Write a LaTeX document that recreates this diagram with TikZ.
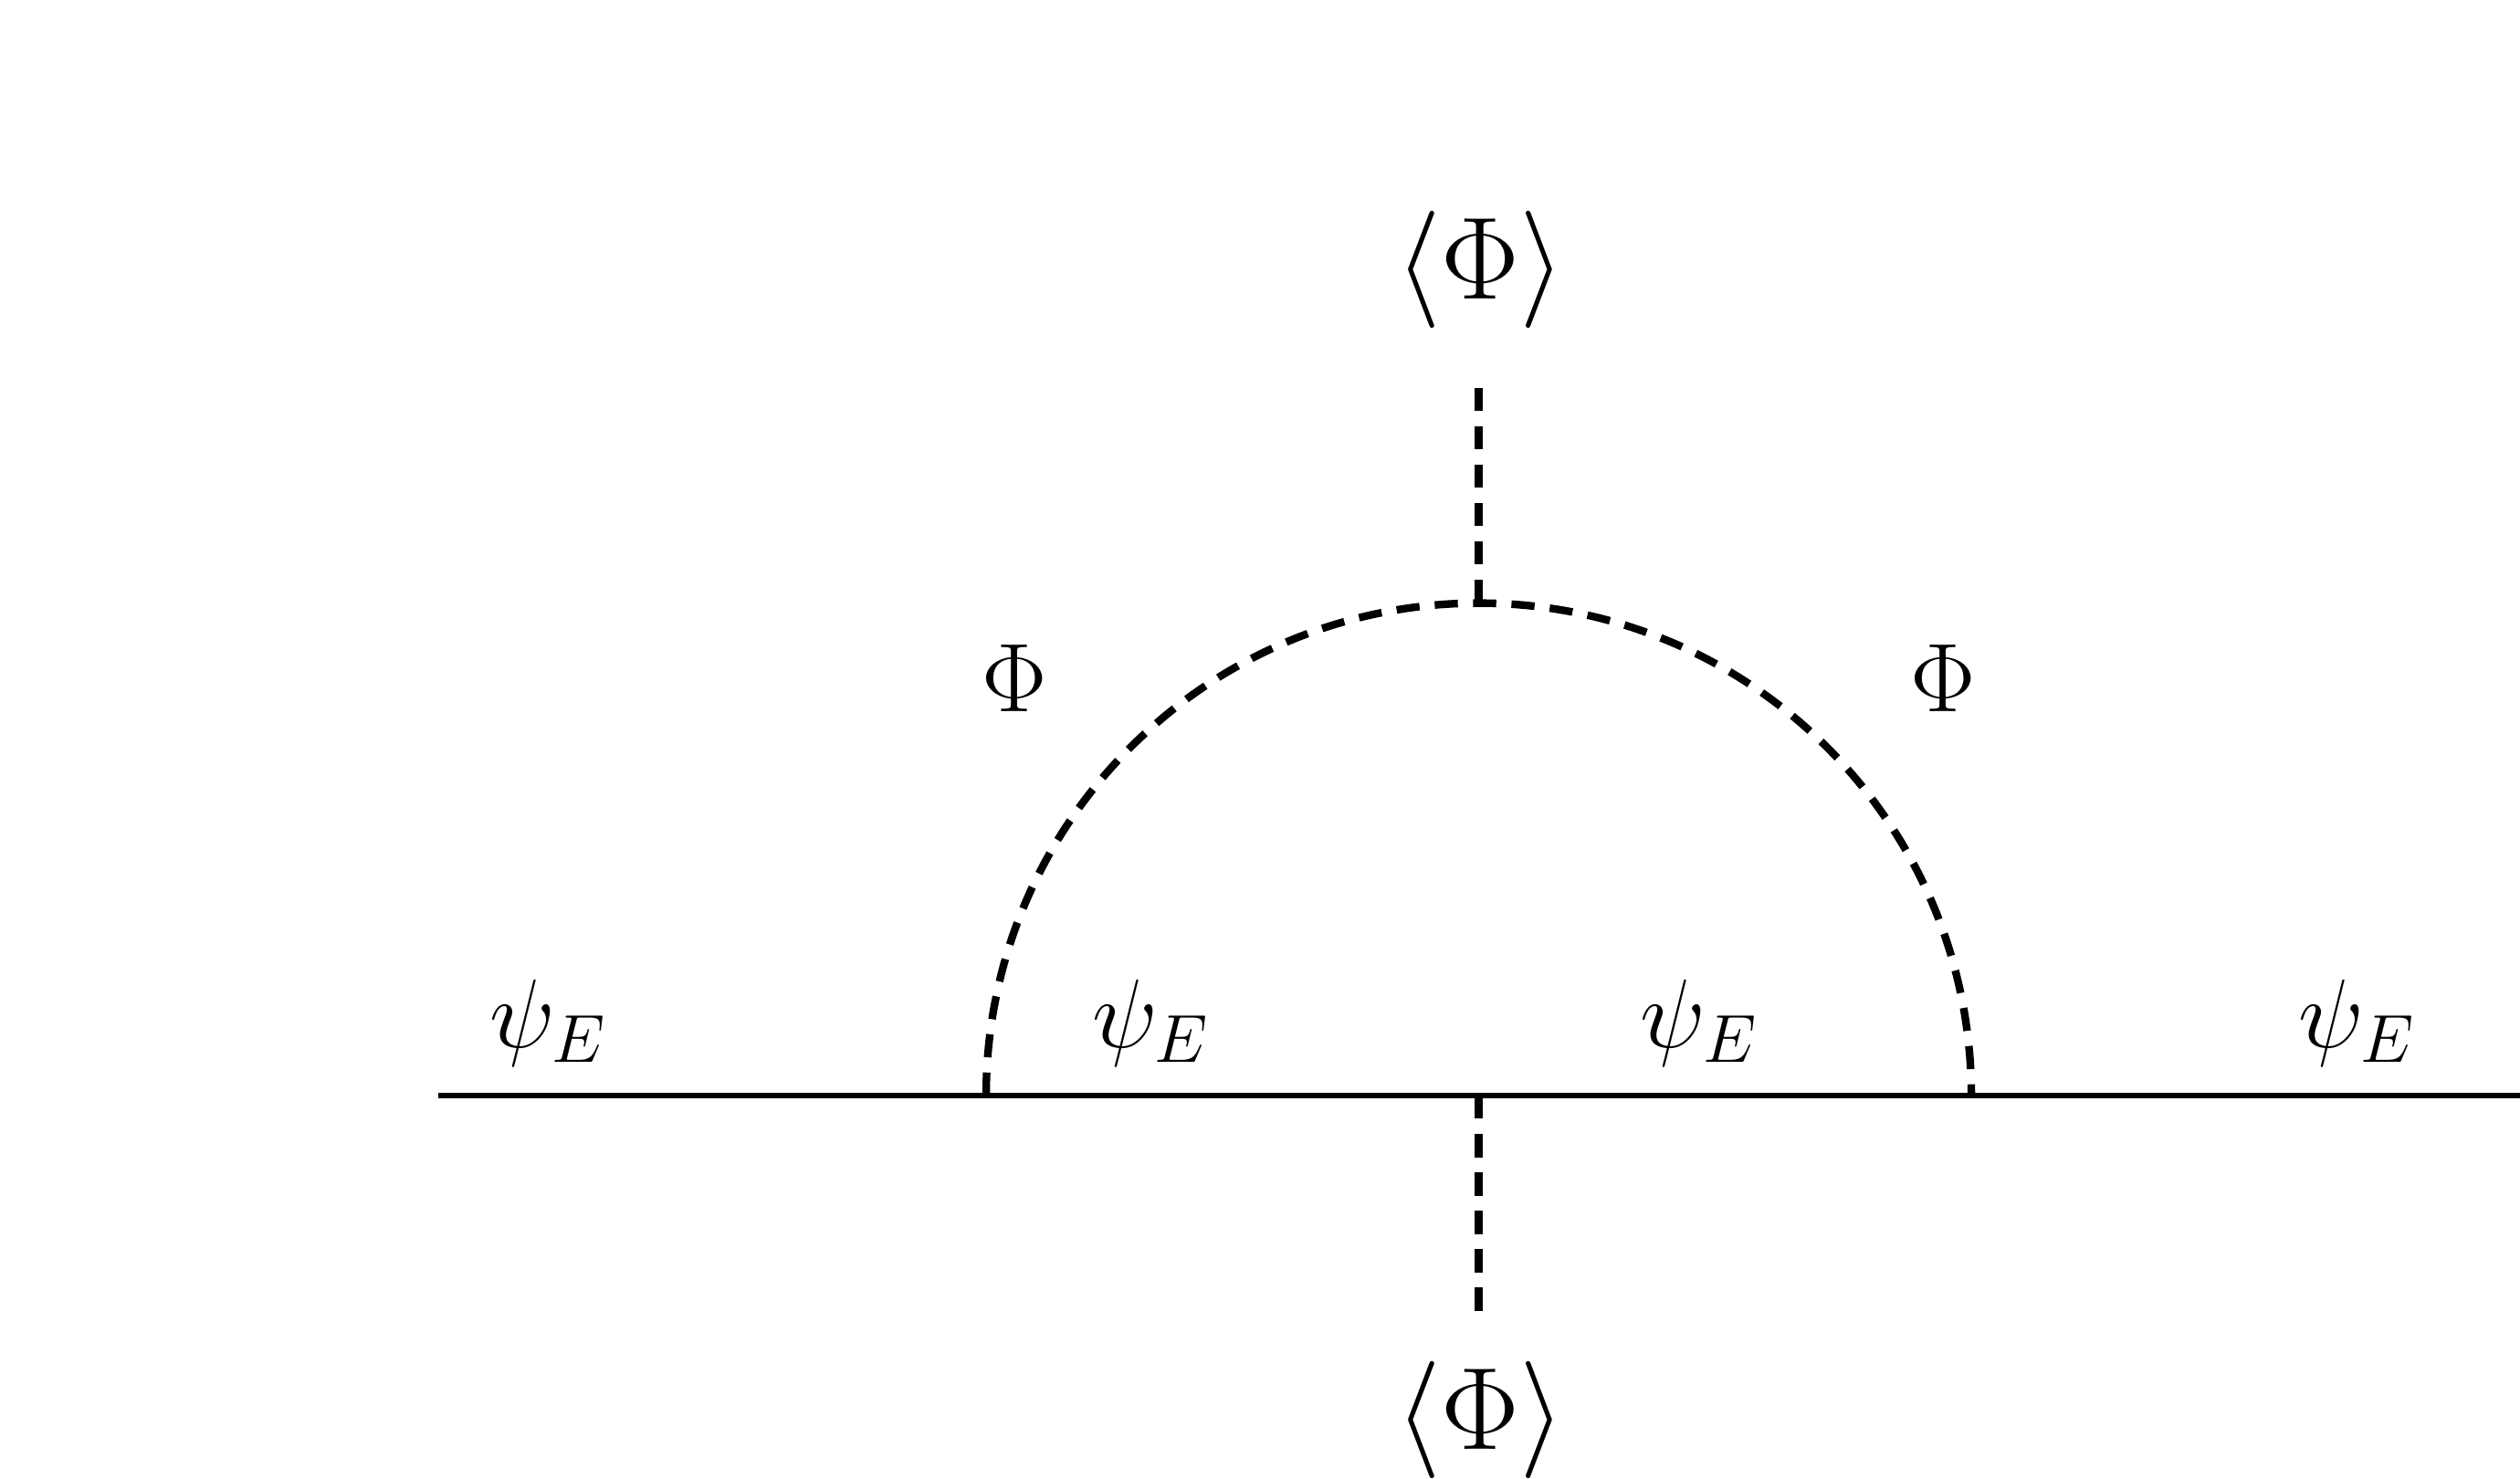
\documentclass[tikz,border=0pt]{standalone}
\usepackage{amsmath}
\usepackage{amssymb}
\usepackage{tikz}

\tikzset{
fermion/.style={line width=1pt},
scalar/.style={line width=1.35pt,dash pattern=on 4.1pt off 2.7pt},
field/.style={font=\fontsize{17.3pt}{21pt}\selectfont,inner sep=0pt,anchor=base},
vev/.style={font=\fontsize{20.8pt}{25pt}\selectfont,inner sep=0pt,anchor=base}
}

\begin{document}
\begin{tikzpicture}
\useasboundingbox (0,0) rectangle (15.68,9.20);
\coordinate (in) at (2.727,2.382);
\coordinate (out) at (15.68,2.382);
\coordinate (left) at (6.136,2.382);
\coordinate (mid) at (9.20,2.382);
\coordinate (right) at (12.266,2.382);
\coordinate (top) at (9.20,5.448);
\coordinate (up) at (9.20,6.797);
\coordinate (down) at (9.20,1.03);
\node[vev] (vevtop) at (9.21,7.342) {$\langle\Phi\rangle$};
\node[vev] (vevbot) at (9.21,0.183) {$\langle\Phi\rangle$};
\node[field] (phil) at (6.31,4.774) {$\Phi$};
\node[field] (phir) at (12.09,4.774) {$\Phi$};
\node[field] (psia) at (3.415,2.683) {$\psi_E$};
\node[field] (psib) at (7.167,2.683) {$\psi_E$};
\node[field] (psic) at (10.576,2.683) {$\psi_E$};
\node[field] (psid) at (14.668,2.683) {$\psi_E$};
\draw[fermion] (in) -- (out);
\draw[scalar] (left) arc[start angle=180,end angle=0,radius=3.065];
\draw[scalar] (top) -- (up);
\draw[scalar] (mid) -- (down);
\end{tikzpicture}
\end{document}
